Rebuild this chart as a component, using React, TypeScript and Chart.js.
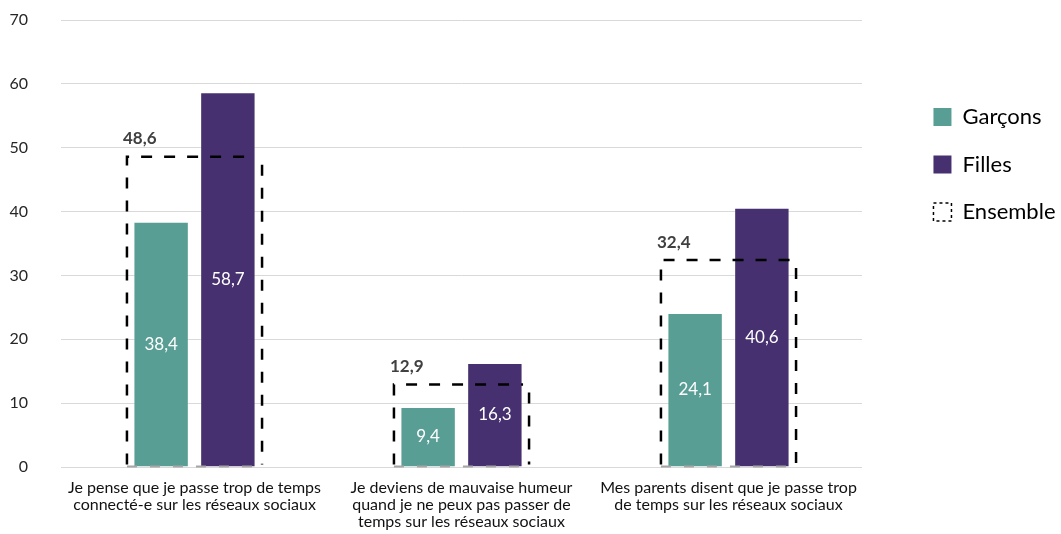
import React, { useEffect, useRef } from "react";
import { Chart, registerables } from "chart.js";

Chart.register(...registerables);

const categories: string[][] = [
  ["Je pense que je passe trop de temps", "connecté-e sur les réseaux sociaux"],
  ["Je deviens de mauvaise humeur", "quand je ne peux pas passer de", "temps sur les réseaux sociaux"],
  ["Mes parents disent que je passe trop", "de temps sur les réseaux sociaux"],
];
const garcons: number[] = [38.4, 9.4, 24.1];
const filles: number[] = [58.7, 16.3, 40.6];
const ensemble: number[] = [48.6, 12.9, 32.4];
const yTicks: number[] = [0, 10, 20, 30, 40, 50, 60, 70];

const TEAL = "#589e94";
const PURPLE = "#46306f";
const FONT = "Lato";
const CANVAS_W = 1061;
const PLOT_RIGHT = 862;

const fmt = (v: number) => v.toFixed(1).replace(".", ",");

const overlayPlugin = {
  id: "overlay",
  afterDatasetsDraw(chart: any) {
    const ctx = chart.ctx;
    // value labels inside bars
    [0, 1].forEach((di) => {
      const meta = chart.getDatasetMeta(di);
      const data = chart.data.datasets[di].data as number[];
      meta.data.forEach((el: any, i: number) => {
        const { x, y, base } = el.getProps(["x", "y", "base"], true);
        ctx.save();
        ctx.fillStyle = "#ffffff";
        ctx.font = `17px ${FONT}`;
        ctx.textAlign = "center";
        ctx.textBaseline = "middle";
        ctx.fillText(fmt(data[i]), x, (y + base) / 2);
        ctx.restore();
      });
    });
    // dashed Ensemble boxes
    const meta = chart.getDatasetMeta(2);
    const data = chart.data.datasets[2].data as number[];
    meta.data.forEach((el: any, i: number) => {
      const { x, y, base, width } = el.getProps(["x", "y", "base", "width"], true);
      const l = x - width / 2;
      const r = x + width / 2;
      ctx.save();
      ctx.strokeStyle = "#a6a6a6";
      ctx.lineWidth = 2;
      ctx.setLineDash([10, 13]);
      ctx.beginPath();
      ctx.moveTo(l, base);
      ctx.lineTo(r, base);
      ctx.stroke();
      ctx.lineWidth = 2.5;
      ctx.strokeStyle = "#000000";
      ctx.setLineDash([11, 12]);
      ctx.beginPath();
      ctx.moveTo(l, base - 2);
      ctx.lineTo(l, y);
      ctx.lineTo(r - 6, y);
      ctx.stroke();
      ctx.beginPath();
      ctx.moveTo(r, y + 8);
      ctx.lineTo(r, base - 2);
      ctx.stroke();
      ctx.setLineDash([]);
      ctx.fillStyle = "#404040";
      ctx.font = `bold 17px ${FONT}`;
      ctx.textAlign = "left";
      ctx.textBaseline = "middle";
      ctx.fillText(fmt(data[i]), l - 4, y - 18);
      ctx.restore();
    });
  },
};

export default function App() {
  const ref = useRef<HTMLCanvasElement>(null);
  useEffect(() => {
    if (!ref.current) return;
    Chart.defaults.font.family = FONT;
    const chart = new Chart(ref.current, {
      type: "bar",
      data: {
        labels: categories as any,
        datasets: [
          {
            label: "Garçons",
            data: garcons,
            backgroundColor: TEAL,
            borderColor: "rgba(255,255,255,0.3)",
            borderWidth: 1,
            categoryPercentage: 0.5,
            barPercentage: 0.83,
          },
          {
            label: "Filles",
            data: filles,
            backgroundColor: PURPLE,
            borderColor: "rgba(255,255,255,0.3)",
            borderWidth: 1,
            categoryPercentage: 0.5,
            barPercentage: 0.83,
          },
          {
            label: "Ensemble",
            data: ensemble,
            backgroundColor: "rgba(0,0,0,0)",
            borderWidth: 0,
            grouped: false,
            categoryPercentage: 1,
            barPercentage: 0.506,
          },
        ],
      },
      options: {
        responsive: false,
        animation: false,
        layout: { padding: { top: 20, right: -4.5, bottom: 0, left: 0 } },
        plugins: {
          tooltip: { enabled: false },
          legend: {
            position: "right",
            align: "start",
            title: { display: true, text: "", font: { size: 10 }, padding: { top: 48.5, bottom: 0 } },
            labels: {
              boxWidth: 18,
              boxHeight: 18,
              padding: 25.5,
              color: "#000",
              font: { size: 22, family: FONT },
              generateLabels: (ch: any) =>
                ch.data.datasets.map((ds: any, i: number) =>
                  i === 2
                    ? {
                        text: ds.label,
                        fillStyle: "rgba(0,0,0,0)",
                        strokeStyle: "#000",
                        fontColor: "#000",
                        lineWidth: 1.5,
                        lineDash: [3, 3],
                        datasetIndex: i,
                        hidden: false,
                      }
                    : {
                        text: ds.label,
                        fillStyle: ds.backgroundColor,
                        strokeStyle: ds.backgroundColor,
                        fontColor: "#000",
                        lineWidth: 0,
                        datasetIndex: i,
                        hidden: false,
                      }
                ),
            },
          },
        },
        scales: {
          x: {
            type: "category",
            offset: true,
            grid: { display: false, drawTicks: false },
            border: { display: false },
            ticks: {
              color: "#111",
              font: { size: 16, family: FONT, lineHeight: 1.06 },
              padding: 12,
              maxRotation: 0,
              autoSkip: false,
            },
            afterFit: (s: any) => {
              s.height = 67;
              s.paddingLeft = 0;
              s.paddingRight = 0;
            },
          },
          y: {
            min: 0,
            max: 70,
            afterBuildTicks: (s: any) => {
              s.ticks = yTicks.map((v) => ({ value: v }));
            },
            grid: { color: "#d9d9d9", lineWidth: 1, drawTicks: false },
            border: { display: false },
            ticks: {
              color: "#262626",
              font: { size: 16, family: FONT },
              padding: 33,
            },
            afterFit: (s: any) => {
              s.width = 61;
              s.paddingTop = 0;
              s.paddingBottom = 0;
            },
          },
          yPad: {
            type: "linear",
            position: "right",
            display: true,
            grid: { display: false, drawTicks: false },
            border: { display: false },
            ticks: { display: false },
            afterFit: (s: any) => {
              const lw = s.chart.legend ? s.chart.legend.width : 150;
              s.width = Math.max(0, CANVAS_W + 4.5 - lw - PLOT_RIGHT);
              s.paddingTop = 0;
              s.paddingBottom = 0;
            },
          },
        },
      },
      plugins: [overlayPlugin],
    });
    return () => chart.destroy();
  }, []);
  return (
    <div style={{ position: "fixed", left: 0, top: 0, width: CANVAS_W, height: 534, background: "#fff" }}>
      <canvas ref={ref} width={CANVAS_W} height={534} style={{ display: "block" }} />
    </div>
  );
}
